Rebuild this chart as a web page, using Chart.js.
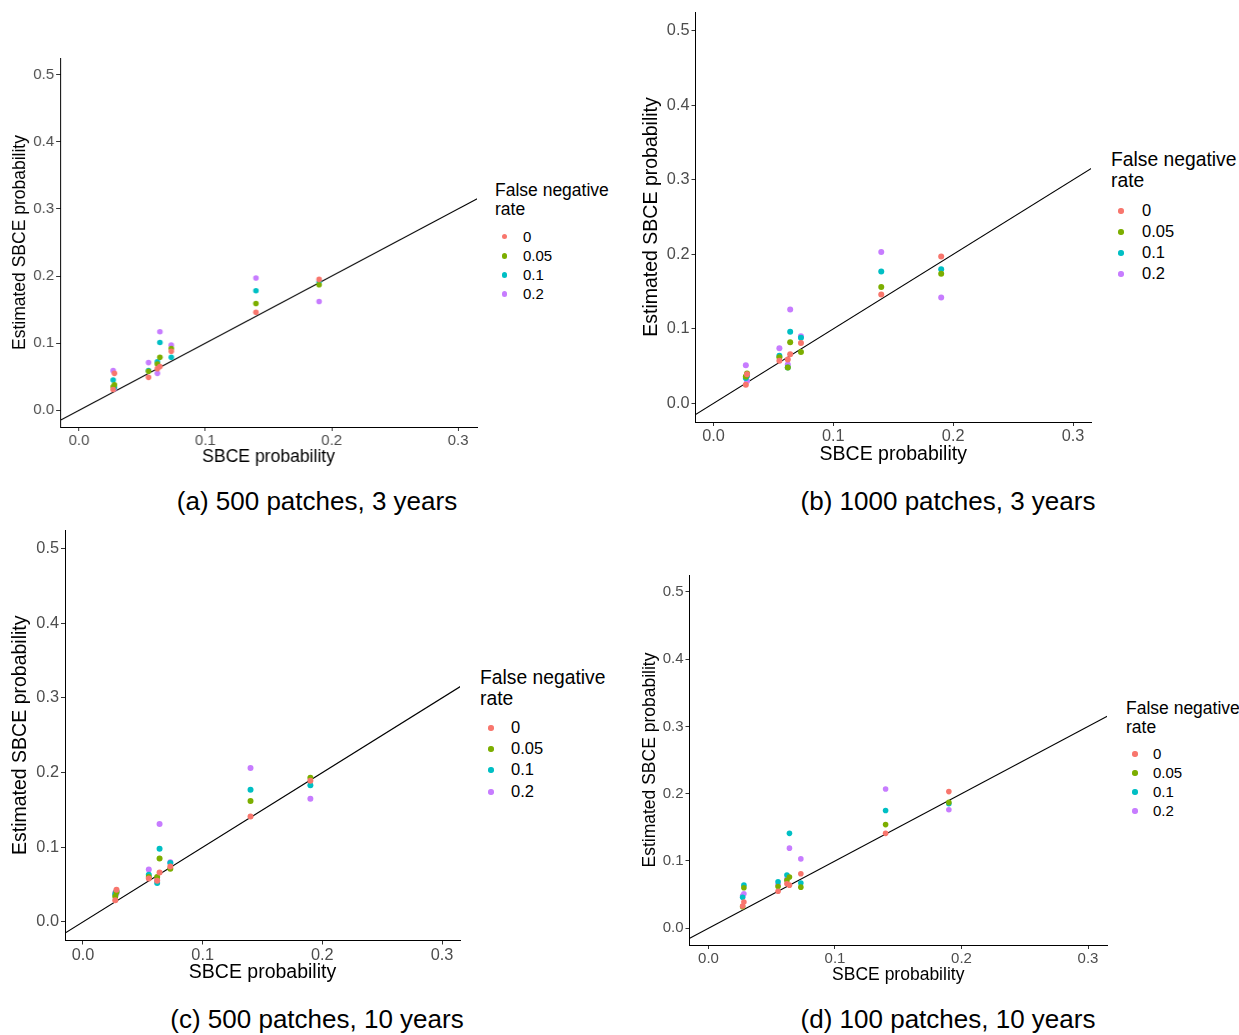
<!DOCTYPE html>
<html lang="en">
<head>
<meta charset="UTF-8">
<title>Estimated vs true SBCE probability</title>
<script src="https://cdn.jsdelivr.net/npm/chart.js"></script>
<style>
  body { margin: 0; background: #fff; font-family: "Liberation Sans", Arial, sans-serif; }
  #page { position: relative; width: 1239px; height: 1035px; overflow: hidden; }
  canvas { position: absolute; }
  .txt { position: absolute; white-space: nowrap; color: #000; }
  .dot { position: absolute; border-radius: 50%; }
</style>
</head>
<body>
<div id="page"></div>

<script>
// ---- data ----
const sbceProb = [0.027, 0.028, 0.055, 0.062, 0.064, 0.073, 0.14, 0.19];
const fnRates = ['0', '0.05', '0.1', '0.2'];
const fnColors = ['#F8766D', '#7CAE00', '#00BFC4', '#C77CFF'];
const xTicks = [0, 0.1, 0.2, 0.3];
const yTicks = [0, 0.1, 0.2, 0.3, 0.4, 0.5];
const refLineEnds = [-0.05, 0.35];   // y = x

// estimated probability, one row per false negative rate (0, 0.05, 0.1, 0.2)
const est500x3 = [
    [0.031, 0.055, 0.049, 0.062, 0.065, 0.088, 0.146, 0.195],
    [0.035, 0.038, 0.058, 0.069, 0.079, 0.092, 0.159, 0.187],
    [0.045, 0.034, 0.059, 0.072, 0.101, 0.079, 0.178, 0.191],
    [0.059, 0.032, 0.071, 0.055, 0.117, 0.097, 0.197, 0.162]
];
const est1000x3 = [
    [0.025, 0.039, 0.057, 0.059, 0.066, 0.081, 0.146, 0.197],
    [0.036, 0.040, 0.062, 0.048, 0.082, 0.069, 0.156, 0.174],
    [0.034, 0.037, 0.064, 0.048, 0.096, 0.088, 0.177, 0.180],
    [0.051, 0.030, 0.074, 0.052, 0.126, 0.090, 0.203, 0.142]
];
const est500x10 = [
    [0.029, 0.043, 0.058, 0.055, 0.066, 0.074, 0.141, 0.189],
    [0.034, 0.040, 0.060, 0.060, 0.085, 0.071, 0.162, 0.193],
    [0.037, 0.041, 0.063, 0.052, 0.098, 0.079, 0.177, 0.183],
    [0.039, 0.038, 0.070, 0.056, 0.131, 0.080, 0.206, 0.165]
];
const est100x10 = [
    [0.033, 0.039, 0.055, 0.066, 0.064, 0.081, 0.141, 0.203],
    [0.032, 0.060, 0.062, 0.071, 0.076, 0.061, 0.154, 0.187],
    [0.046, 0.064, 0.069, 0.079, 0.141, 0.067, 0.175, 0.185],
    [0.048, 0.051, 0.065, 0.073, 0.119, 0.103, 0.207, 0.176]
];

// ---- layout of the four panels (page pixels) ----
const panels = [
    { est: est500x3, caption: '(a) 500 patches, 3 years',
      plot: {l: 60, t: 57.5, r: 476.5, b: 427}, yTitleX: 20, xTitleY: 457,
      tick: 15, title: 17.5, rad: 2.8,
      leg: {x: 495, t1: 190.5, t2: 209.5, rows: [236.5, 256, 275, 294], dot: 504.5, lab: 523, tf: 17.5, lf: 15},
      cap: {cx: 317, cy: 502} },
    { est: est1000x3, caption: '(b) 1000 patches, 3 years',
      plot: {l: 695.5, t: 12, r: 1091, b: 422}, yTitleX: 652, xTitleY: 455,
      tick: 16.3, title: 19.5, rad: 3,
      leg: {x: 1111, t1: 160, t2: 181, rows: [211, 232, 253, 274], dot: 1121, lab: 1142, tf: 19.3, lf: 16.5},
      cap: {cx: 948, cy: 502} },
    { est: est500x10, caption: '(c) 500 patches, 10 years',
      plot: {l: 65, t: 529.5, r: 460, b: 940.5}, yTitleX: 21, xTitleY: 973,
      tick: 16.3, title: 19.5, rad: 3,
      leg: {x: 480, t1: 678, t2: 699, rows: [728, 749, 770, 792], dot: 491, lab: 511, tf: 19.3, lf: 16.5},
      cap: {cx: 317, cy: 1020} },
    { est: est100x10, caption: '(d) 100 patches, 10 years',
      plot: {l: 689.5, t: 575, r: 1107, b: 945}, yTitleX: 650, xTitleY: 975,
      tick: 15, title: 17.5, rad: 2.8,
      leg: {x: 1126, t1: 708, t2: 727, rows: [754, 773, 792, 811], dot: 1135, lab: 1153, tf: 17.5, lf: 15},
      cap: {cx: 948, cy: 1020} }
];

const page = document.getElementById('page');
const FONT = '"Liberation Sans", Arial, sans-serif';

function addText(text, x, cy, size, align) {
    const d = document.createElement('div');
    d.className = 'txt';
    d.textContent = text;
    d.style.fontSize = size + 'px';
    d.style.lineHeight = (size * 1.2) + 'px';
    d.style.top = (cy - size * 0.6) + 'px';
    if (align === 'center') {
        d.style.left = (x - 400) + 'px';
        d.style.width = '800px';
        d.style.textAlign = 'center';
    } else {
        d.style.left = x + 'px';
    }
    page.appendChild(d);
}

function addDot(cx, cy, r, color) {
    const d = document.createElement('div');
    d.className = 'dot';
    d.style.left = (cx - r) + 'px';
    d.style.top = (cy - r) + 'px';
    d.style.width = (2 * r) + 'px';
    d.style.height = (2 * r) + 'px';
    d.style.background = color;
    page.appendChild(d);
}

panels.forEach(p => {
    // padding must exceed half a tick label so Chart.js adds nothing of its own
    const padT = Math.min(14, p.plot.t), padR = 14;
    const cl = p.yTitleX - 14, ct = p.plot.t - padT;
    const cr = p.plot.r + padR, cb = p.xTitleY + 16;
    const yAxisW = p.plot.l - cl;
    const xAxisH = cb - p.plot.b;
    const lh = p.title * 1.2 / 2;

    const canvas = document.createElement('canvas');
    canvas.style.left = cl + 'px';
    canvas.style.top = ct + 'px';
    canvas.style.width = (cr - cl) + 'px';
    canvas.style.height = (cb - ct) + 'px';
    canvas.width = cr - cl;
    canvas.height = cb - ct;
    page.appendChild(canvas);

    const datasets = [{
        type: 'line',
        data: refLineEnds.map(v => ({x: v, y: v})),
        borderColor: '#000',
        borderWidth: 1.1,
        pointRadius: 0,
        order: 5
    }];
    fnRates.forEach((fn, i) => {
        datasets.push({
            type: 'scatter',
            label: fn,
            data: sbceProb.map((x, j) => ({x: x, y: p.est[i][j]})),
            backgroundColor: fnColors[i],
            borderWidth: 0,
            pointRadius: p.rad,
            order: i
        });
    });

    const tickStyle = {color: '#4D4D4D', font: {family: FONT, size: p.tick}};
    new Chart(canvas, {
        data: {datasets: datasets},
        options: {
            responsive: false,
            animation: false,
            layout: {padding: {top: padT, right: padR, left: 0, bottom: 0}},
            plugins: {legend: {display: false}, tooltip: {enabled: false}},
            scales: {
                x: {
                    type: 'linear', min: -0.015, max: 0.315,
                    afterBuildTicks: s => { s.ticks = xTicks.map(v => ({value: v})); },
                    afterFit: s => { s.height = xAxisH; },
                    ticks: Object.assign({padding: 1, maxRotation: 0, callback: v => v.toFixed(1)}, tickStyle),
                    grid: {drawOnChartArea: false, drawTicks: true, tickLength: 4, color: '#333'},
                    border: {display: true, color: '#000', width: 1},
                    title: {display: true, text: 'SBCE probability', color: '#000',
                            font: {family: FONT, size: p.title}, padding: {top: 0, bottom: 16 - lh}}
                },
                y: {
                    type: 'linear', min: -0.025, max: 0.525,
                    afterBuildTicks: s => { s.ticks = yTicks.map(v => ({value: v})); },
                    afterFit: s => { s.width = yAxisW; },
                    ticks: Object.assign({padding: 2, callback: v => v.toFixed(1)}, tickStyle),
                    grid: {drawOnChartArea: false, drawTicks: true, tickLength: 4, color: '#333'},
                    border: {display: true, color: '#000', width: 1},
                    title: {display: true, text: 'Estimated SBCE probability', color: '#000',
                            font: {family: FONT, size: p.title}, padding: {top: 14 - lh, bottom: 0}}
                }
            }
        }
    });

    // legend
    addText('False negative', p.leg.x, p.leg.t1, p.leg.tf);
    addText('rate', p.leg.x, p.leg.t2, p.leg.tf);
    fnRates.forEach((fn, i) => {
        addDot(p.leg.dot, p.leg.rows[i], 2.7, fnColors[i]);
        addText(fn, p.leg.lab, p.leg.rows[i], p.leg.lf);
    });

    // caption
    addText(p.caption, p.cap.cx, p.cap.cy, 26, 'center');
});
</script>
</body>
</html>
